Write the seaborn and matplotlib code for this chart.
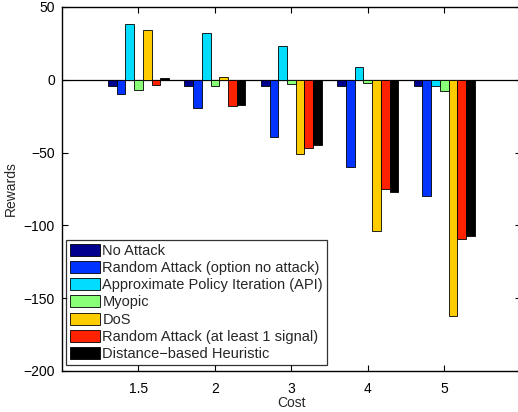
import matplotlib
matplotlib.use("Agg")
import matplotlib.pyplot as plt
import seaborn as sns
import pandas as pd

# Cost settings on the x axis
costs = ["1.5", "2", "3", "4", "5"]

# Average reward for each strategy at each cost
no_attack = [-4.5, -4.5, -4.5, -4.5, -4.5]
random_option_no_attack = [-9.5, -19.5, -39.5, -60, -80]
api = [38, 32, 23, 9, -4]
myopic = [-7, -4.5, -3, -2.5, -7.5]
dos = [34, 2, -51, -104, -162]
random_at_least_one = [-3.5, -18, -47, -75, -109]
distance_heuristic = [1, -17.5, -45, -77, -107]

series_names = [
    "No Attack",
    "Random Attack (option no attack)",
    "Approximate Policy Iteration (API)",
    "Myopic",
    "DoS",
    "Random Attack (at least 1 signal)",
    "Distance\u2212based Heuristic",
]
series_values = [no_attack, random_option_no_attack, api, myopic, dos,
                 random_at_least_one, distance_heuristic]
colors = ["#00008F", "#0033FF", "#00DDFF", "#88FF77", "#FFCC00", "#FF2200", "#000000"]

rows = []
for name, vals in zip(series_names, series_values):
    for c, v in zip(costs, vals):
        rows.append({"Cost": c, "Reward": v, "Strategy": name})
df = pd.DataFrame(rows)

sns.set_style("white")
plt.rcParams["font.family"] = ["Liberation Sans", "DejaVu Sans"]
plt.rcParams["axes.unicode_minus"] = True

W, H = 518, 412
fig = plt.figure(figsize=(W / 100, H / 100), dpi=100)
left, right, top, bottom = 62, 520.7, 7, 371
ax = fig.add_axes([left / W, (H - bottom) / H, (right - left) / W, (bottom - top) / H])

sns.barplot(data=df, x="Cost", y="Reward", hue="Strategy", hue_order=series_names,
            order=costs, palette=colors, width=0.8, saturation=1, ax=ax,
            edgecolor="black", linewidth=0.6, errorbar=None)

ax.axhline(0, color="black", lw=0.9, zorder=0.5)
ax.set_xlim(-1, 5)
ax.set_ylim(-200, 50)
ax.set_yticks([-200, -150, -100, -50, 0, 50])
ax.set_xlabel("Cost", fontsize=10, labelpad=0)
ax.set_ylabel("Rewards", fontsize=10, labelpad=4)
ax.tick_params(axis="both", direction="in", length=4, width=0.8, labelsize=10,
               top=True, right=True, bottom=True, left=True, pad=5, colors="black")
ax.tick_params(axis="x", pad=8)
for s in ax.spines.values():
    s.set_visible(True)
    s.set_color("black")
    s.set_linewidth(1.0)

handles, labels = ax.get_legend_handles_labels()
leg = ax.legend(handles, labels, loc="lower left",
                bbox_to_anchor=(0.0087, 0.0165), borderaxespad=0,
                fontsize=10.5, frameon=True, fancybox=False, edgecolor="black",
                handlelength=2.05, handleheight=0.9, handletextpad=0.2,
                labelspacing=0.22, borderpad=0.25)
leg.get_frame().set_linewidth(0.9)

fig.savefig("out.png", dpi=100)
